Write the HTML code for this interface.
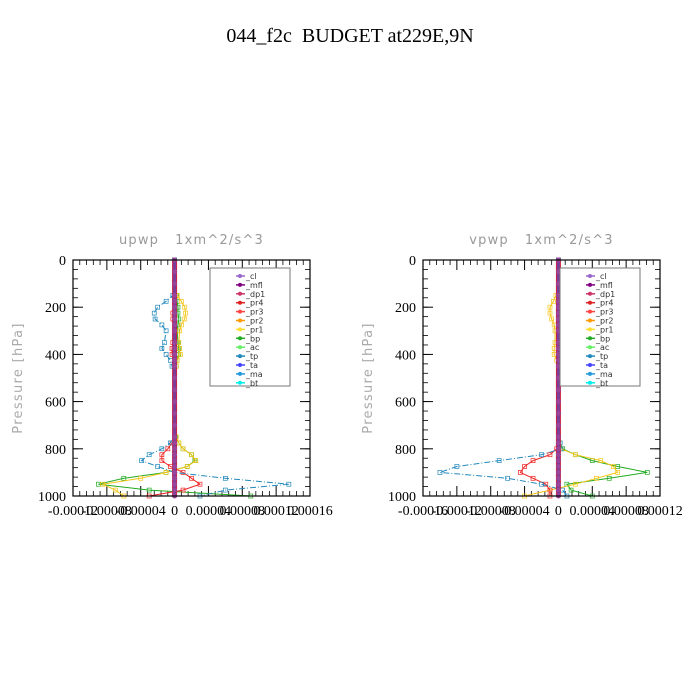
<!DOCTYPE html>
<html><head><meta charset="utf-8"><style>
body{margin:0;background:#fff;}
svg{display:block;}
</style></head><body>
<svg id="chart" width="700" height="700" xmlns="http://www.w3.org/2000/svg">
<rect width="700" height="700" fill="#fff"/>
<text x="350" y="42" text-anchor="middle" font-family="Liberation Serif, serif" font-size="20" style="white-space:pre">044_f2c  BUDGET at229E,9N</text>
</svg>
<script>
// Pressure levels (hPa)
const levels = [0,50,100,150,175,200,225,250,275,300,350,375,400,425,450,500,550,600,650,700,750,775,800,825,850,875,900,925,950,975,1000];
// Units of 1e-5 m^2/s^3
const upTp  = [0,0,0,-0.2,-1,-2,-2.4,-2.3,-1.5,-1,-1.2,-1.5,-1,-0.5,-0.3,0,0,0,0,0,0,-0.5,-1.5,-3,-3.9,-2,0,6,13.5,6,3];
const upPr1 = [0,0,0,0.3,0.8,1.2,1.3,1.2,0.8,0.6,0.5,0.6,0.7,0.3,0.2,0,0,0,0,0,0.2,0.5,1,2,2.5,1.5,-1,-4,-8.5,-7,-6];
const upBp  = [0,0,0,0.2,0.3,0.4,0.4,0.5,0.4,0.3,0.4,0.5,0.5,0.3,0.2,0,0,0,0,0,0.1,0.5,1,2,2.4,1.5,-1,-6,-9,-3,9];
const upPr3 = [0,0,0,0,0,0,-0.2,-0.2,0,0,-0.2,-0.3,-0.3,0,0,0,0,0,0,0,0,-0.3,-0.8,-1.5,-1.5,-0.5,1,2,3,1,-3];
const vpTp  = [0,0,0,0.2,0.5,0.8,0.7,0.6,0.3,0.2,0.3,0.4,0.5,0.2,0,0,0,0,0,0,0,0.2,0.3,-2,-7,-12,-14,-6,-2,0.5,1];
const vpPr1 = [0,0,0,-0.3,-0.6,-1,-1,-0.8,-0.5,-0.4,-0.4,-0.5,-0.5,-0.2,0,0,0,0,0,0,0,0.2,0.3,2,5,6.5,7,4.5,2,-1,-4];
const vpBp  = [0,0,0,0,0.1,0.2,0.3,0.4,0.4,0.3,0.3,0.2,0.2,0,0,0,0,0,0,0,0,0.2,0.5,2,4,7,10.5,6,1,1.5,4];
const vpPr3 = [0,0,0,0,0,0,0,0,0,0,0,0,0,0,0,0,0,0,0,0,0,0,-0.2,-1,-3,-4,-4.5,-3,-1.5,-1,-1];
const pTicks = [0,200,400,600,800,1000];
const upXTicks = [-12,-8,-4,0,4,8,12,16];
const vpXTicks = [-16,-12,-8,-4,0,4,8,12];
const upXLabels = ["-0.00012","-0.00008","-0.00004","0","0.00004","0.00008","0.00012","0.00016"];
const vpXLabels = ["-0.00016","-0.00012","-0.00008","-0.00004","0","0.00004","0.00008","0.00012"];
const legendNames = ["_cl","_mfl","_dp1","_pr4","_pr3","_pr2","_pr1","_bp","_ac","_tp","_ta","_ma","_bt"];
const legendColors = ["#9966cc","#800080","#cc3366","#dd2222","#ff4444","#ff9900","#ffdd33","#22aa22","#66ee66","#2288bb","#4444ff","#2299dd","#00eeee"];

const NS="http://www.w3.org/2000/svg";
const svg=document.getElementById('chart');
function mk(tag,attrs,parent){const e=document.createElementNS(NS,tag);for(const k in attrs)e.setAttribute(k,attrs[k]);(parent||svg).appendChild(e);return e;}

function panel(x0,xmin,xmax,title,ticks,labels,series,nm){
  const y0=260,W=237,H=236;
  const g=mk('g',{});
  
  
  const xs=v=>x0+(v-xmin)/(xmax-xmin)*W;
  const ys=p=>y0+p/1000*H;
  const t=mk('text',{x:x0+W/2,y:244,'text-anchor':'middle','font-family':'DejaVu Sans, sans-serif','font-size':13,fill:'#999','letter-spacing':1.2,style:'white-space:pre'},g);
  t.textContent=title;
  
  
  const yl=mk('text',{x:0,y:0,transform:`translate(${x0-51},${y0+H/2}) rotate(-90)`,'text-anchor':'middle','font-family':'DejaVu Sans, sans-serif','font-size':13,fill:'#aaa','letter-spacing':1.3},g);
  yl.textContent='Pressure [hPa]';
  
  
  for(let i=0;i<ticks.length-1;i++){for(let j=1;j<5;j++){const v=ticks[i]+(ticks[i+1]-ticks[i])*j/5;const x=xs(v);
    mk('line',{x1:x,y1:y0,x2:x,y2:y0+5,stroke:'#000','stroke-width':0.8},g);mk('line',{x1:x,y1:y0+H,x2:x,y2:y0+H-5,stroke:'#000','stroke-width':0.8},g);}}
  ticks.forEach((v,i)=>{const x=xs(v);
    mk('line',{x1:x,y1:y0,x2:x,y2:y0+10,stroke:'#000','stroke-width':1},g);
    mk('line',{x1:x,y1:y0+H,x2:x,y2:y0+H-10,stroke:'#000','stroke-width':1},g);
    const l=mk('text',{x:x,y:y0+H+19,'text-anchor':'middle','font-family':'Liberation Serif, serif','font-size':14},g);
    l.textContent=labels[i];
    
    
  });
  for(let p=0;p<=1000;p+=40){const y=ys(p);mk('line',{x1:x0,y1:y,x2:x0+5,y2:y,stroke:'#000','stroke-width':0.8},g);mk('line',{x1:x0+W,y1:y,x2:x0+W-5,y2:y,stroke:'#000','stroke-width':0.8},g);}
  pTicks.forEach(p=>{const y=ys(p);
    mk('line',{x1:x0,y1:y,x2:x0+10,y2:y,stroke:'#000'},g);mk('line',{x1:x0+W,y1:y,x2:x0+W-10,y2:y,stroke:'#000'},g);
    const l=mk('text',{x:x0-7,y:y+5,'text-anchor':'end','font-family':'Liberation Serif, serif','font-size':14},g);
    l.textContent=p;
    
    
  });
  series.forEach(s=>{
    const pts=s.vals.map((v,i)=>xs(v)+','+ys(levels[i])).join(' ');
    const pl=mk('polyline',{points:pts,fill:'none',stroke:s.c,'stroke-width':1,'stroke-dasharray':s.d||''},g);
    
    
    s.vals.forEach((v,i)=>{mk('rect',{x:xs(v)-2,y:ys(levels[i])-2,width:4,height:4,fill:'none',stroke:s.c,'stroke-width':0.7},g);});
  });
  const cx=xs(0);
  mk('line',{x1:cx,y1:y0,x2:cx,y2:y0+H,stroke:'#cc2244','stroke-width':5},g);
  const mid=mk('line',{x1:cx,y1:y0,x2:cx,y2:y0+H,stroke:'#7a3d9a','stroke-width':3},g);
  
  
  levels.forEach(p=>mk('circle',{cx:cx,cy:ys(p),r:2.5,fill:'#994499'},g));
  mk('rect',{x:x0,y:y0,width:W,height:H,fill:'none',stroke:'#000','stroke-width':1.2},g);
  const lx=x0+137,ly=268;
  const lg=mk('g',{},g);
  
  
  mk('rect',{x:lx,y:ly,width:80,height:118,fill:'#fff',stroke:'#777','stroke-width':1},lg);
  legendNames.forEach((n,i)=>{const yy=ly+8+i*8.9;
    mk('line',{x1:lx+26,y1:yy,x2:lx+35,y2:yy,stroke:legendColors[i],'stroke-width':1.5},lg);
    mk('circle',{cx:lx+30,cy:yy,r:2,fill:legendColors[i]},lg);
    const t=mk('text',{x:lx+36,y:yy+3,'font-family':'DejaVu Sans, sans-serif','font-size':8,fill:'#333'},lg);
    t.textContent=n;
    
    
  });
}
panel(73,-12,16,'upwp   1xm^2/s^3',upXTicks,upXLabels,[
 {vals:upBp,c:'#22aa22',n:'-bp'},{vals:upPr1,c:'#f5c518',n:'-pr1'},{vals:upPr3,c:'#ee2222',n:'-pr3'},{vals:upTp,c:'#2288bb',d:'6,2,1,2',n:'-tp'}],'upwp');
panel(423,-16,12,'vpwp   1xm^2/s^3',vpXTicks,vpXLabels,[
 {vals:vpBp,c:'#22aa22',n:'-bp'},{vals:vpPr1,c:'#f5c518',n:'-pr1'},{vals:vpPr3,c:'#ee2222',n:'-pr3'},{vals:vpTp,c:'#2288bb',d:'6,2,1,2',n:'-tp'}],'vpwp');
</script>
</body></html>
